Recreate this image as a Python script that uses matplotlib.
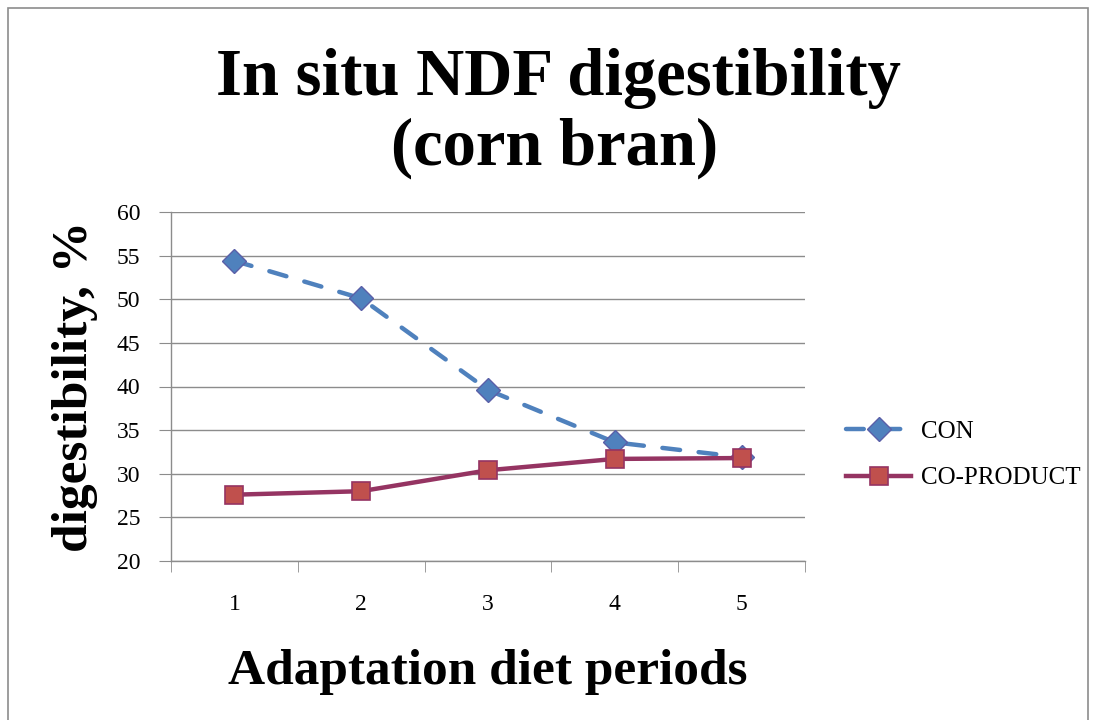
import matplotlib
matplotlib.use('Agg')
import matplotlib.pyplot as plt
from matplotlib.patches import Rectangle

# chart data
periods = [1, 2, 3, 4, 5]
con = [54.4, 50.1, 39.6, 33.6, 31.9]
co_product = [27.6, 28.0, 30.4, 31.7, 31.8]
y_ticks = [20, 25, 30, 35, 40, 45, 50, 55, 60]

plt.rcParams['font.family'] = ['Liberation Serif', 'DejaVu Serif']

fig = plt.figure(figsize=(10.93, 7.2), dpi=100)
ax = fig.add_axes([171 / 1093, 1 - 561 / 720, 634 / 1093, 349 / 720])

# outer chart border
fig.patches.append(Rectangle((8 / 1093, -0.05), 1080 / 1093, 1.05 - 8 / 720,
                             transform=fig.transFigure, fill=False,
                             edgecolor='#8c8c8c', linewidth=1.2))

ax.plot(periods, con, color='#4F81BD', linewidth=3.2, dashes=(4, 4.2),
        dash_capstyle='round', marker='D', markersize=12,
        markerfacecolor='#4F81BD', markeredgecolor='#5a5fa8',
        markeredgewidth=1, label='CON', zorder=3)
ax.plot(periods, co_product, color='#953462', linewidth=3.2,
        marker='s', markersize=13.5, markerfacecolor='#C0504D',
        markeredgecolor='#953462', markeredgewidth=1.2,
        label='CO-PRODUCT', zorder=4)

ax.set_xlim(0.5, 5.5)
ax.set_ylim(20, 60)
ax.set_yticks(y_ticks)
ax.set_xticks(periods)
ax.set_xticks([0.5, 1.5, 2.5, 3.5, 4.5, 5.5], minor=True)
ax.tick_params(axis='x', which='major', length=0, pad=24, labelsize=17)
ax.tick_params(axis='x', which='minor', length=8, color='#8c8c8c', direction='out')
ax.tick_params(axis='y', length=9, color='#8c8c8c', pad=13, labelsize=17)

ax.grid(axis='y', color='#8c8c8c', linewidth=1)
ax.set_axisbelow(True)
for side in ['top', 'right']:
    ax.spines[side].set_visible(False)
for side in ['left', 'bottom']:
    ax.spines[side].set_color('#8c8c8c')
    ax.spines[side].set_linewidth(1)

# titles and axis labels
fig.text(558 / 1093, 1 - 95 / 720, 'In situ NDF digestibility', ha='center',
         va='baseline', fontsize=48, fontweight='bold')
fig.text(555 / 1093, 1 - 165 / 720, '(corn bran)', ha='center',
         va='baseline', fontsize=48, fontweight='bold')
fig.text(488 / 1093, 1 - 684 / 720, 'Adaptation diet periods', ha='center',
         va='baseline', fontsize=37, fontweight='bold')
fig.text(75 / 1093, 1 - 386 / 720, 'digestibility, %', ha='center',
         va='center', rotation=90, fontsize=37, fontweight='bold')

ax.legend(loc='center left', bbox_to_anchor=(1.0647, 0.3037), frameon=False,
          fontsize=18, handlelength=2.6, handletextpad=0.4, labelspacing=0.95,
          borderpad=0, borderaxespad=0)

fig.savefig('out.png', dpi=100)
